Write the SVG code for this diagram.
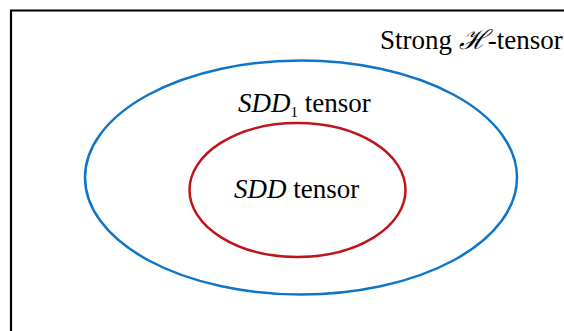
<svg xmlns="http://www.w3.org/2000/svg" width="564" height="331" viewBox="0 0 564 331">
<style>
text{font-family:"Liberation Serif","Times New Roman","DejaVu Serif",serif;font-size:27px;fill:#000}
.i{font-style:italic}
</style>
<rect width="564" height="331" fill="#fff"/>
<g id="strong-h">
<path d="M11 331V10.5H564" fill="none" stroke="#000" stroke-width="2.2"/>
<text x="380" y="49">Strong <tspan class="i">ℋ</tspan>-tensor</text>
</g>
<g id="sdd1">
<ellipse cx="301" cy="177.5" rx="216" ry="117" fill="none" stroke="#0F75C6" stroke-width="2.5"/>
<text x="238" y="112"><tspan class="i">SDD</tspan><tspan font-size="15" dy="5">1</tspan><tspan dy="-5"> tensor</tspan></text>
</g>
<g id="sdd">
<ellipse cx="297.5" cy="190" rx="108" ry="67" fill="none" stroke="#C0141C" stroke-width="2.5"/>
<text x="234" y="198"><tspan class="i">SDD</tspan> tensor</text>
</g>
<g id="connectors"/>
</svg>
